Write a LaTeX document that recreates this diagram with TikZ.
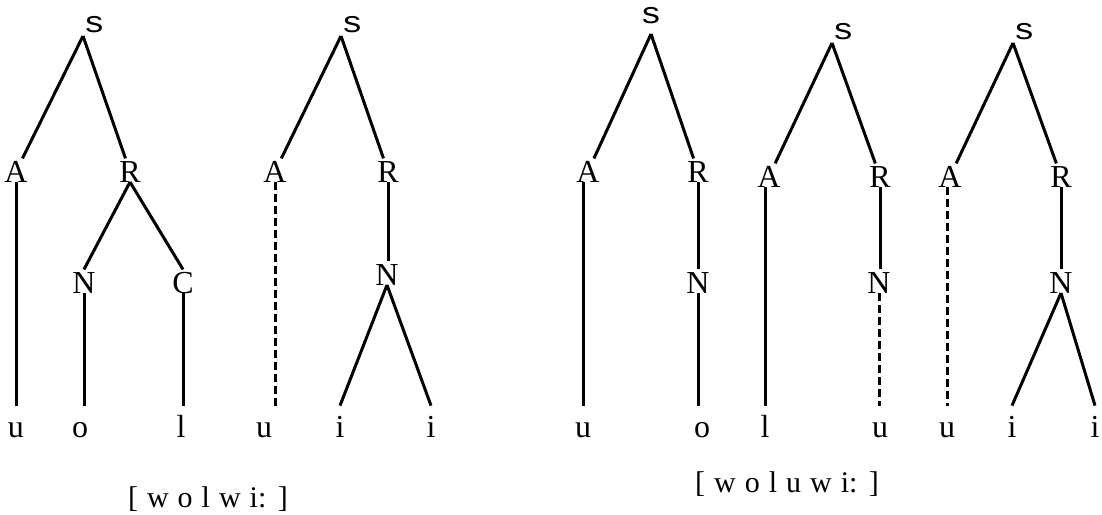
\documentclass[tikz,border=0pt]{standalone}
\usepackage{fontspec}
\setmainfont{Liberation Serif}
\newfontfamily\rootfont[FakeStretch=1.2]{Liberation Mono}
\newcommand{\sylfont}{\rootfont\fontsize{15}{17}\selectfont}
\newcommand{\catfont}{\fontsize{16}{18}\selectfont}
\newcommand{\glossfont}{\fontsize{15}{17}\selectfont\spaceskip=0.3em\relax}
\tikzstyle{root}=[font=\sylfont,inner xsep=0pt,inner ysep=1.5pt,anchor=south west]
\tikzstyle{cat}=[font=\catfont,inner xsep=2pt,inner ysep=1pt,text height=10.6pt,text depth=0pt,anchor=base]
\tikzstyle{seg}=[font=\catfont,inner xsep=2pt,inner ysep=6pt,text height=9.5pt,text depth=0pt,anchor=base]
\tikzstyle{gloss}=[font=\glossfont,anchor=base]
\tikzstyle{assoc}=[line width=1.5pt]
\tikzstyle{delink}=[line width=1.5pt,dash pattern=on 4pt off 2pt]

\begin{document}
\begin{tikzpicture}[x=0.5pt,y=-0.5pt]
\useasboundingbox (0,0) rectangle (1102,514);
% [wolwi:], first syllable
\node[root] (s1) at (83,36) {s};
\node[cat] (A1) at (16,182) {A};
\node[cat] (R1) at (130,182) {R};
\node[cat] (N1) at (84,293) {N};
\node[cat] (C1) at (183,293) {C};
\node[seg] (u1) at (16,437) {u};
\node[seg] (o1) at (80,437) {o};
\node[seg] (l1) at (181,437) {l};
\draw[assoc] (s1.south west) -- (A1);
\draw[assoc] (s1.south west) -- (R1);
\draw[assoc] (A1.base) -- (A1.base |- u1.north);
\draw[assoc] (R1.base) -- (N1.north);
\draw[assoc] (R1.base) -- (C1.north);
\draw[assoc] (N1.base) -- (N1.base |- o1.north);
\draw[assoc] (C1.base) -- (C1.base |- l1.north);
% [wolwi:], second syllable
\node[root] (s2) at (341,36) {s};
\node[cat] (A2) at (275,182) {A};
\node[cat] (R2) at (388,182) {R};
\node[cat] (N2) at (387,285) {N};
\node[seg] (u2) at (264,437) {u};
\node[seg] (i1) at (340,437) {i};
\node[seg] (i2) at (431,437) {i};
\draw[assoc] (s2.south west) -- (A2);
\draw[assoc] (s2.south west) -- (R2);
\draw[delink] (A2.base) -- (A2.base |- u2.north);
\draw[assoc] (R2.base) -- (R2.base |- N2.north);
\draw[assoc] (N2.base) -- (i1.north);
\draw[assoc] (N2.base) -- (i2.north);
\node[gloss] (g1) at (208,507) {[ w o l w i: ]};

% [woluwi:], first syllable
\node[root,anchor=south,inner ysep=5pt] (s3) at (651,34) {s};
\node[cat] (A3) at (588,182) {A};
\node[cat] (R3) at (698,182) {R};
\node[cat] (N3) at (698,293) {N};
\node[seg] (u3) at (583,437) {u};
\node[seg] (o2) at (702,437) {o};
\draw[assoc] (s3.south) -- (A3);
\draw[assoc] (s3.south) -- (R3);
\draw[assoc] (A3.base -| u3.north) -- (u3.north);
\draw[assoc] (R3.base) -- (R3.base |- N3.north);
\draw[assoc] (N3.base) -- (N3.base |- o2.north);
% [woluwi:], second syllable
\node[root] (s4) at (832,43) {s};
\node[cat] (A4) at (769,187) {A};
\node[cat] (R4) at (880,187) {R};
\node[cat] (N4) at (879,293) {N};
\node[seg] (l2) at (765,437) {l};
\node[seg] (u4) at (880,437) {u};
\draw[assoc] (s4.south west) -- (A4);
\draw[assoc] (s4.south west) -- (R4);
\draw[assoc] (A4.base -| l2.north) -- (l2.north);
\draw[assoc] (R4.base) -- (R4.base |- N4.north);
\draw[delink] (N4.base) -- (N4.base |- u4.north);
% [woluwi:], third syllable
\node[root] (s5) at (1013,43) {s};
\node[cat] (A5) at (950,187) {A};
\node[cat] (R5) at (1061,187) {R};
\node[cat] (N5) at (1061,293) {N};
\node[seg] (u5) at (947,437) {u};
\node[seg] (i3) at (1012,437) {i};
\node[seg] (i4) at (1095,437) {i};
\draw[assoc] (s5.south west) -- (A5);
\draw[assoc] (s5.south west) -- (R5);
\draw[delink] (A5.base -| u5.north) -- (u5.north);
\draw[assoc] (R5.base) -- (R5.base |- N5.north);
\draw[assoc] (N5.base) -- (i3.north);
\draw[assoc] (N5.base) -- (i4.north);
\node[gloss] (g2) at (787,492) {[ w o l u w i: ]};
\end{tikzpicture}
\end{document}
